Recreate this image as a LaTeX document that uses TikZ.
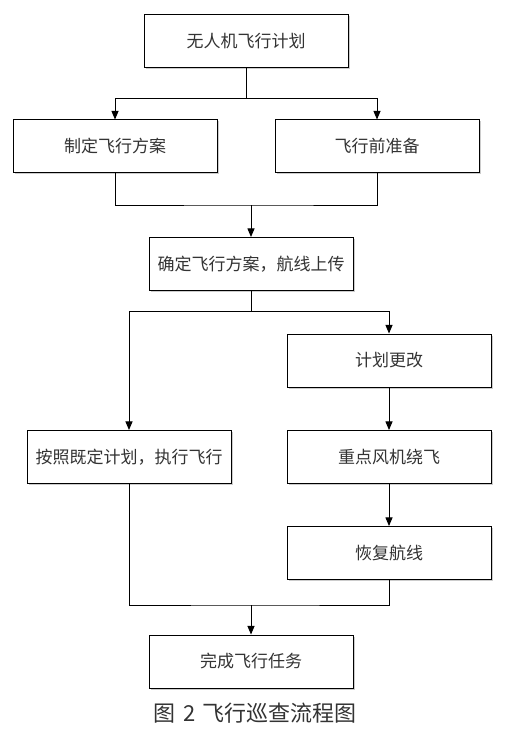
\documentclass[tikz,border=0pt]{standalone}
\usepackage{fontspec}
\newfontfamily\cjk{Noto Sans CJK SC}
\usetikzlibrary{arrows,shadows}

\tikzset{
  stepbox/.style = {draw, line width = 1pt, fill = white, inner sep = 2pt,
    minimum width = 204pt, minimum height = 53pt,
    drop shadow = {shadow xshift = 1.5pt, shadow yshift = -1.5pt, opacity = 0.4},
    font = \cjk\fontsize{17}{20}\selectfont, text = black!80},
  line/.style = {line width = 1pt},
  flow/.style = {line width = 1pt, -triangle 45}
}

\begin{document}
\begin{tikzpicture}[x = 1pt, y = -1pt]
\useasboundingbox (0,0) rectangle (517,730);
% boxes
\node [stepbox] (plan) at (246,41.5) {无人机飞行计划};
\node [stepbox] (design) at (115,146.5) {制定飞行方案};
\node [stepbox] (prep) at (377,146.5) {飞行前准备};
\node [stepbox] (confirm) at (251,264) {确定飞行方案，航线上传};
\node [stepbox] (change) at (389,360.5) {计划更改};
\node [stepbox] (execute) at (129,457) {按照既定计划，执行飞行};
\node [stepbox] (detour) at (389,457) {重点风机绕飞};
\node [stepbox] (resume) at (389,553) {恢复航线};
\node [stepbox] (finish) at (251,661.5) {完成飞行任务};
\node [font = \cjk\fontsize{22}{25}\selectfont, text = black!80] (caption) at (255,713)
  {图\hspace{8pt}2\hspace{6pt}飞行巡查流程图};
% connectors
\draw [line] (plan.south) -- ++(0,30) coordinate (split1);
\draw [flow] (split1) -| (design.north);
\draw [flow] (split1) -| (prep.north);
\coordinate (merge1) at (251,205);
\draw [line] (design.south) |- (merge1) -| (prep.south);
\draw [flow] (merge1) -- (confirm.north);
\draw [line] (confirm.south) -- ++(0,20) coordinate (split2);
\draw [flow] (split2) -| (change.north);
\draw [flow] (split2) -| (execute.north);
\draw [flow] (change) -- (detour);
\draw [flow] (detour) -- (resume);
\coordinate (merge2) at (251,605);
\draw [line] (execute.south) |- (merge2) -| (resume.south);
\draw [flow] (merge2) -- (finish.north);
\end{tikzpicture}
\end{document}
